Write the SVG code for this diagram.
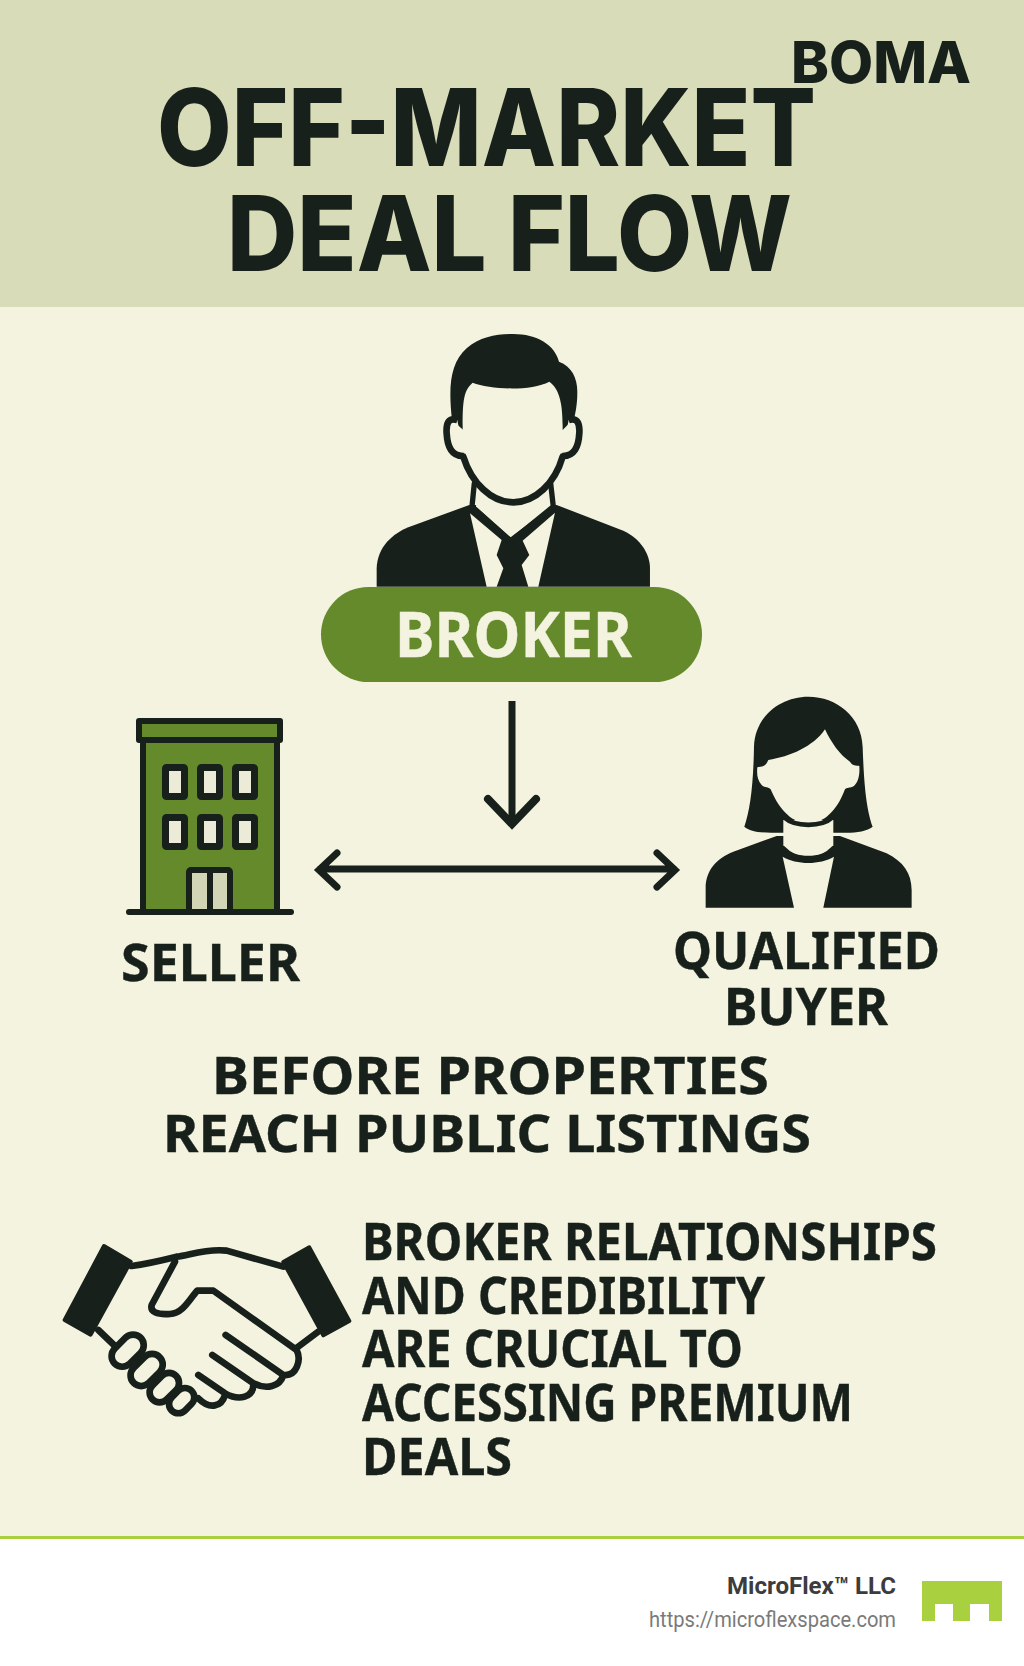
<svg xmlns="http://www.w3.org/2000/svg" width="1024" height="1666" viewBox="0 0 1024 1666">
<style>
.t{font-family:"Noto Sans","Liberation Sans",sans-serif;font-weight:700;fill:#17201a;font-size:52px;stroke:#17201a;stroke-width:.4px}
.h{font-family:Inter,"Liberation Sans",sans-serif;font-weight:800;fill:#17201a}
.d{fill:#17201a}
.c{fill:#f3f3df}
.s{fill:none;stroke:#17201a;stroke-width:20;stroke-linecap:round;stroke-linejoin:round}
.b{stroke:#17201a;stroke-width:6;stroke-linejoin:round}
.w{fill:#ecebd8}
.f{fill:#f3f3df;stroke:#17201a;stroke-width:20}
.a{fill:none;stroke:#17201a;stroke-width:7;stroke-linecap:round;stroke-linejoin:miter}
</style>
<rect width="1024" height="1666" fill="#f3f3df"/>
<g id="header">
<rect width="1024" height="307" fill="#d8dcb8"/>
<text class="h" x="791" y="83" font-size="58" textLength="180" lengthAdjust="spacingAndGlyphs">BOMA</text>
<text class="h" x="157" y="166" font-size="107" textLength="659" lengthAdjust="spacingAndGlyphs">OFF-MARKET</text>
<text class="h" x="227" y="271" font-size="105" textLength="565" lengthAdjust="spacingAndGlyphs">DEAL FLOW</text>
</g>
<g id="broker">
<g transform="translate(340 320) scale(.3333)">
<path class="d" d="M110 800V745C112 680 160 640 205 622L388 555L650 555L850 632C900 655 930 700 930 745V800Z"/>
<path class="c" d="M390 580L485 660L470 705L490 745L470 800H440ZM645 578L548 662L568 705L545 735L565 800H595Z"/>
<path class="c" d="M412 500H630L634 560L512 652L408 560Z"/>
<path class="s" d="M403 490L396 560L512 664L640 560L632 490" style="stroke-width:16"/>
<path class="d" d="M336 300C325 200 330 130 380 85C420 50 470 42 520 42C590 42 645 75 657 125C695 138 712 175 712 215C712 250 708 270 703 295L668 330H370Z"/>
<path class="c" style="stroke:#17201a;stroke-width:20" d="M352 300C325 292 318 310 320 340C322 380 335 410 372 408M686 300C712 292 720 310 718 340C716 380 703 410 666 408"/>
<path class="c" d="M368 318C368 240 372 210 398 188C450 208 570 215 628 185C655 205 668 240 668 318C668 360 672 390 660 420C640 490 580 546 520 546C460 546 400 490 378 420C368 390 368 360 368 318Z"/>
<path class="s" d="M370 410C395 490 455 547 520 547C585 547 645 490 668 410"/>
</g>
<rect x="321" y="587" width="381" height="95" rx="47.500" fill="#648a2c"/>
<text class="t" x="395" y="657" style="font-size:62px;fill:#f3f3df;stroke:#f3f3df" textLength="237" lengthAdjust="spacingAndGlyphs">BROKER</text>
</g>
<g id="seller">
<rect class="b" x="139" y="721" width="141" height="19" fill="#648a2c"/>
<rect class="b" x="143" y="740" width="134" height="172" fill="#648a2c"/>
<g class="w">
<rect class="b" x="165.500" y="767.500" width="19" height="29" rx="1" style="stroke-width:7"/><rect class="b" x="200.500" y="767.500" width="19" height="29" rx="1" style="stroke-width:7"/><rect class="b" x="235.500" y="767.500" width="19" height="29" rx="1" style="stroke-width:7"/>
<rect class="b" x="165.500" y="817.500" width="19" height="29" rx="1" style="stroke-width:7"/><rect class="b" x="200.500" y="817.500" width="19" height="29" rx="1" style="stroke-width:7"/><rect class="b" x="235.500" y="817.500" width="19" height="29" rx="1" style="stroke-width:7"/>
</g>
<rect class="b" x="189" y="870" width="41" height="42" rx="2" fill="#d2d6b6"/>
<path d="M210 870V912M129 912H291" fill="none" stroke="#17201a" stroke-width="6" stroke-linecap="round"/>
<text class="t" x="121" y="981" textLength="179" lengthAdjust="spacingAndGlyphs">SELLER</text>
</g>
<g id="buyer">
<g transform="translate(640 680) scale(.3333)">
<path class="d" d="M313 440C330 390 340 320 342 200C345 110 420 50 505 50C590 50 665 110 668 200C672 320 680 390 698 440C680 455 640 460 605 458H410C370 460 330 455 313 440Z"/>
<path class="d" d="M197 683V625C197 570 230 535 280 515L410 468H600L740 520C790 545 815 580 815 630V683H550L582 530C540 555 470 555 428 530L462 683Z"/>
<path class="c" d="M430 420H580V505C540 535 470 535 430 505Z"/>
<path class="s" style="stroke-width:14" d="M430 505C470 548 540 548 580 505"/>
<path class="c" d="M385 240C450 230 520 200 555 148C575 190 600 225 630 245C640 262 655 255 658 258C660 285 655 305 642 318C630 325 620 322 615 328C590 395 550 430 505 430C460 430 420 395 392 328C385 320 375 325 365 315C352 300 350 285 352 262C360 258 375 265 385 240Z"/>
<path class="s" style="stroke-width:14" d="M432 412C465 442 545 442 578 412"/>
</g>
<text class="t" x="673" y="969" textLength="267" lengthAdjust="spacingAndGlyphs">QUALIFIED</text>
<text class="t" x="724" y="1025" textLength="164" lengthAdjust="spacingAndGlyphs">BUYER</text>
</g>
<g id="connectors">
<path class="a" style="stroke-linecap:butt" d="M512 701V824"/>
<path class="a" style="stroke-width:8" d="M488 799L512 824L536 799"/>
<path class="a" d="M320 869H674M337 853L319 870L337 887M657 853L675 870L657 887"/>
</g>
<g id="caption">
<text class="t" y="1094"><tspan x="212" textLength="557" lengthAdjust="spacingAndGlyphs">BEFORE PROPERTIES</tspan><tspan x="163" y="1152" textLength="648" lengthAdjust="spacingAndGlyphs">REACH PUBLIC LISTINGS</tspan></text>
</g>
<g id="handshake">
<g transform="translate(50 1220) scale(.3333)">
<path class="d" style="stroke:#17201a;stroke-width:12;stroke-linejoin:round" d="M162 78L242 125L122 344L44 300ZM778 82L700 126L820 346L898 303Z"/>
<path class="s" d="M245 138C300 130 340 120 380 110C420 105 470 85 530 92L700 140"/>
<path class="s" d="M375 125L305 255C300 275 320 285 360 282C400 280 420 235 442 212H490L740 390C755 420 740 470 700 465L527 345M700 465C690 500 650 510 610 490L487 405M610 495C610 530 570 545 525 520L445 465M525 525C515 560 480 570 445 535M145 330L195 378M738 385L805 335"/>
<rect class="f" x="201" y="337" width="64" height="110" rx="32" transform="rotate(45 233 392)"/>
<rect class="f" x="258" y="395" width="64" height="110" rx="32" transform="rotate(45 290 450)"/>
<rect class="f" x="313" y="453" width="60" height="100" rx="30" transform="rotate(45 343 503)"/>
<rect class="f" x="367" y="500" width="56" height="84" rx="28" transform="rotate(45 395 542)"/>
</g>
</g>
<g id="note">
<text class="t" y="1260"><tspan x="362" textLength="575" lengthAdjust="spacingAndGlyphs">BROKER RELATIONSHIPS</tspan><tspan x="362" y="1314" textLength="403" lengthAdjust="spacingAndGlyphs">AND CREDIBILITY</tspan><tspan x="362" y="1367" textLength="381" lengthAdjust="spacingAndGlyphs">ARE CRUCIAL TO</tspan><tspan x="362" y="1421" textLength="491" lengthAdjust="spacingAndGlyphs">ACCESSING PREMIUM</tspan><tspan x="362" y="1475" textLength="150" lengthAdjust="spacingAndGlyphs">DEALS</tspan></text>
</g>
<g id="footer">
<rect y="1536" width="1024" height="130" fill="#fff"/>
<rect y="1536" width="1024" height="3" fill="#a9d13f"/>
<text x="896" y="1594" text-anchor="end" font-family="Roboto,sans-serif" font-weight="700" font-size="24" fill="#3c3c3c" textLength="169" lengthAdjust="spacingAndGlyphs">MicroFlex™ LLC</text>
<text x="896" y="1627" text-anchor="end" font-family="Roboto,sans-serif" font-size="22" fill="#7a7a7a" textLength="247" lengthAdjust="spacingAndGlyphs">https://microflexspace.com</text>
<path fill="#a9d13f" d="M922 1581H1002V1621H989V1604H970V1621H953V1604H935V1621H922Z"/>
</g>
</svg>
